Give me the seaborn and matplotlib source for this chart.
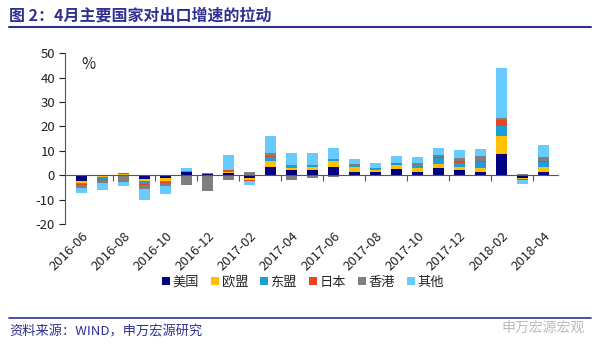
import numpy as np
import pandas as pd
import matplotlib
matplotlib.use("Agg")
import matplotlib.pyplot as plt
import seaborn as sns
from matplotlib.patches import Patch
from matplotlib.lines import Line2D

months = ["2016-06", "2016-07", "2016-08", "2016-09", "2016-10", "2016-11", "2016-12",
          "2017-01", "2017-02", "2017-03", "2017-04", "2017-05", "2017-06", "2017-07",
          "2017-08", "2017-09", "2017-10", "2017-11", "2017-12", "2018-01", "2018-02",
          "2018-03", "2018-04"]
us    = [-2.5, -0.3,  0.0, -1.5, -1.0, 1.2,  0.7, 1.0, -1.0, 3.5, 2.0, 2.0, 3.5, 1.5, 1.5, 2.5, 1.5, 3.0, 2.0, 1.5,  8.5, -1.0, 1.5]
eu    = [-0.5, -0.5,  0.5, -1.0, -1.5, 0.3, -0.5, 0.3, -1.0, 2.5, 1.0, 1.5, 2.5, 2.0, 0.8, 1.5, 1.5, 1.5, 1.5, 1.5,  7.5, -0.7, 2.0]
asean = [-0.5, -0.8, -0.3, -1.0, -0.3, 0.3,  0.2, 0.3,  0.0, 1.5, 1.0, 0.5, 0.5, 0.5, 0.5, 0.8, 1.0, 2.5, 1.5, 2.5,  4.0,  0.0, 2.0]
japan = [-0.3, -0.2,  0.3, -0.5, -0.5, 0.1,  0.0, 0.5, -0.5, 0.5, 0.0, 0.2, 0.3, 0.3, 0.0, 0.2, 0.0, 0.3, 1.0, 0.3,  2.5, -0.3, 0.5]
hk    = [-1.5, -1.2, -2.5, -1.5, -1.0, -4.0, -6.0, -2.0, 1.5, 1.0, -2.0, -1.0, -0.8, 0.5, 0.3, 0.0, 1.0, 1.0, 1.0, 2.0, 1.0, 0.5, 1.5]
other = [-2.0, -3.0, -1.5, -4.5, -3.5, 1.0,  0.0, 6.0, -1.5, 7.0, 5.0, 5.0, 4.5, 2.0, 2.0, 3.0, 2.3, 3.0, 3.5, 3.0, 20.5, -1.5, 5.0]

series_names = ["美国", "欧盟", "东盟", "日本", "香港", "其他"]
series_vals = [us, eu, asean, japan, hk, other]
colors = ["#000080", "#FFC000", "#1E9ED8", "#E8461E", "#7F7F7F", "#66CCFF"]

sns.set_theme(style="white")
plt.rcParams["font.family"] = ["Noto Sans CJK SC", "DejaVu Sans"]
plt.rcParams["axes.unicode_minus"] = False

fig = plt.figure(figsize=(6.0, 3.54), dpi=100)
ax = fig.add_axes([0.108, 0.367, 0.822, 0.483])

pos_cum = np.zeros(len(months))
neg_cum = np.zeros(len(months))
for name, vals, c in zip(series_names, series_vals, colors):
    v = np.array(vals, dtype=float)
    bottom = np.where(v >= 0, pos_cum, neg_cum)
    df = pd.DataFrame({"month": months, "val": v})
    sns.barplot(data=df, x="month", y="val", order=months, color=c, width=0.5,
                bottom=bottom, ax=ax, errorbar=None, saturation=1, linewidth=0)
    pos_cum += np.where(v > 0, v, 0)
    neg_cum += np.where(v < 0, v, 0)

ax.set_ylim(-20, 50)
ax.set_xlim(-0.8, len(months) - 0.3)
ax.set_yticks(range(-20, 51, 10))
ax.tick_params(axis="y", labelsize=9.5, colors="#222222", length=4, width=0.8, direction="out", left=True, pad=3)
ax.set_xlabel("")
ax.set_ylabel("")
for s in ["top", "right"]:
    ax.spines[s].set_visible(False)
ax.spines["left"].set_color("#555555")
ax.spines["left"].set_linewidth(0.8)
ax.spines["bottom"].set_position(("data", 0))
ax.spines["bottom"].set_color("#555555")
ax.spines["bottom"].set_linewidth(0.8)
ax.spines["bottom"].set_bounds(-0.8, len(months) - 0.3)

# tick marks on zero line at category boundaries every two months
ax.set_xticks([i + 1.5 for i in range(0, len(months) - 1, 2)])
ax.tick_params(axis="x", bottom=True, length=4, width=0.8, color="#555555", labelbottom=False, direction="out")

# labels at the bottom
sec = ax.secondary_xaxis(0.0)
lab_idx = list(range(0, len(months), 2))
sec.set_xticks(lab_idx)
sec.set_xticklabels([months[i] for i in lab_idx], rotation=45, ha="right", rotation_mode="anchor")
sec.tick_params(length=0, labelsize=9.5, colors="#222222", pad=4)
sec.spines["bottom"].set_visible(False)

ax.text(0.0, 49, "%", fontsize=11, color="#222222", va="top", ha="left")

handles = [Patch(facecolor=c, edgecolor="none") for c in colors]
fig.legend(handles, series_names, loc="center", bbox_to_anchor=(0.505, 0.203), ncol=6,
           frameon=False, fontsize=9.5, handlelength=0.6, handleheight=0.6,
           handletextpad=0.2, columnspacing=0.9)

navy = "#2E3192"
fig.text(0.015, 0.955, "图 2：4月主要国家对出口增速的拉动", fontsize=11.5, fontweight="bold",
         color=navy, va="center", ha="left")
fig.add_artist(Line2D([0.015, 0.985], [0.923, 0.923], color=navy, linewidth=1.5))
fig.add_artist(Line2D([0.015, 0.985], [0.103, 0.103], color=navy, linewidth=1.2))
fig.text(0.015, 0.062, "资料来源：WIND，申万宏源研究", fontsize=9.5, color=navy, va="center", ha="left")
fig.text(0.975, 0.075, "申万宏源宏观", fontsize=10, color="#BBBBBB", va="center", ha="right")

fig.savefig("out.png", dpi=100)
